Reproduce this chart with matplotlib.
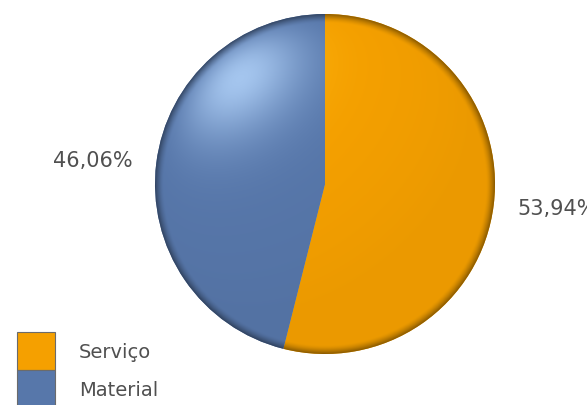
import matplotlib
matplotlib.use("Agg")
import matplotlib.pyplot as plt
from matplotlib.patches import Patch
import numpy as np

# chart data
categories = ["Serviço", "Material"]
values = [53.94, 46.06]
colors = ["#F5A000", "#5777AA"]
highlights = [(1.0, 0.82, 0.15), (0.72, 0.85, 1.0)]

fig = plt.figure(figsize=(5.87, 4.06), dpi=100)
fig.patch.set_facecolor("white")
ax = fig.add_axes([155 / 587, 1 - 355 / 406, 340 / 587, 340 / 406])

labels = [f"{v:.2f}%".replace(".", ",") for v in values]
wedges, texts = ax.pie(values, labels=labels, colors=colors, startangle=90,
                       counterclock=False, labeldistance=1.14,
                       textprops=dict(fontsize=15, color="#505050"))
for t in texts:
    t.set_va("center")
    t.set_clip_on(False)

# glossy highlight and dark rim, clipped to each wedge
n = 400
xs = np.linspace(-1, 1, n)
X, Y = np.meshgrid(xs, xs)
R = np.sqrt(X ** 2 + Y ** 2)
Z = np.sqrt(np.clip(1 - R ** 2, 0, 1))
light = np.array([-0.5, 0.62, 0.6])
light = light / np.linalg.norm(light)
diff = np.clip(X * light[0] + Y * light[1] + Z * light[2], 0, 1)
shade = 0.96 + 0.05 * diff
spec = diff ** 12 * 0.8
rim = np.clip((R - 0.95) / 0.05, 0, 1) ** 1.5
for w, c, hl in zip(wedges, colors, highlights):
    base = np.array(matplotlib.colors.to_rgb(c))
    rgb = base[None, None, :] * shade[..., None]
    rgb = rgb * (1 - spec[..., None]) + np.array(hl)[None, None, :] * spec[..., None]
    rgb = rgb * (1 - 0.4 * rim[..., None])
    im = ax.imshow(np.clip(rgb, 0, 1), extent=(-1, 1, -1, 1), origin="lower",
                   interpolation="bilinear", zorder=2)
    im.set_clip_path(w)

ax.set_xlim(-1, 1)
ax.set_ylim(-1, 1)
ax.set_aspect("equal")
ax.axis("off")

handles = [Patch(facecolor=c, edgecolor="#6b6b6b", linewidth=0.8) for c in colors]
fig.legend(handles, categories, loc="upper left",
           bbox_to_anchor=(17 / 587, 1 - 333 / 406), frameon=False,
           fontsize=14, labelcolor="#505050", borderpad=0, borderaxespad=0,
           handlelength=1.95, handleheight=2.64, labelspacing=0,
           handletextpad=1.25)

fig.savefig("out.png", dpi=100, facecolor="white")
